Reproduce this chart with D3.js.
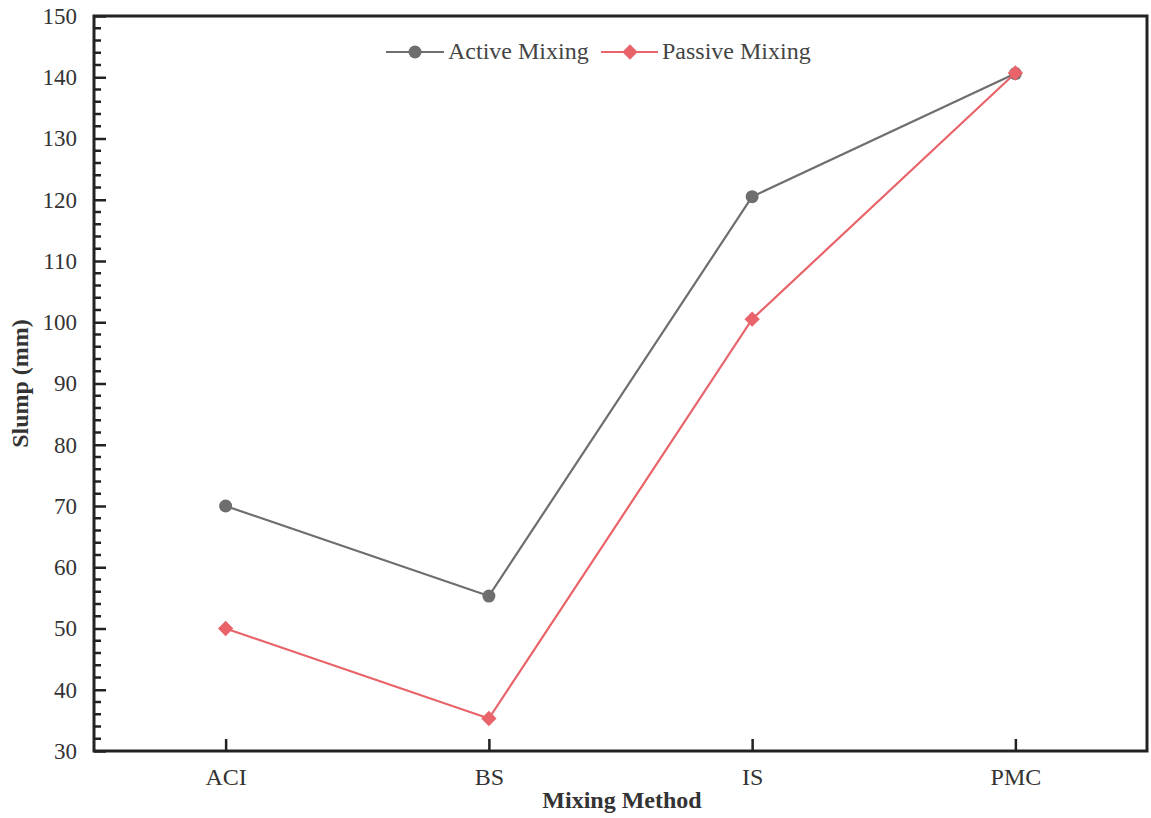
<!DOCTYPE html>
<html>
<head>
<meta charset="utf-8">
<script src="https://cdn.jsdelivr.net/npm/d3@7"></script>
<style>
  body { margin: 0; background: #fff; }
  text { font-family: "Liberation Serif", "DejaVu Serif", serif; }
</style>
</head>
<body>
<div id="container"></div>
<script>
let w = 1151;
let h = 818;

let categories = ["ACI", "BS", "IS", "PMC"];
let activeValues = [70, 55.3, 120.5, 140.6];
let passiveValues = [50, 35.3, 100.5, 140.7];
let yTicks = [30, 40, 50, 60, 70, 80, 90, 100, 110, 120, 130, 140, 150];

let padL = 94, padR = 1147, padT = 16, padB = 751;

let viz = d3.select("#container")
  .append("svg")
    .attr("width", w)
    .attr("height", h);

// scales
let xScale = d3.scalePoint().domain(categories).range([padL, padR]).padding(0.5);
let yScale = d3.scaleLinear().domain([30, 150]).range([padB, padT]);

// minor ticks every 2
let minor = d3.range(30, 151, 2).filter(v => v % 10 != 0);
viz.append("g").selectAll("line").data(minor).enter().append("line")
  .attr("x1", padL).attr("x2", padL + 7)
  .attr("y1", d => yScale(d)).attr("y2", d => yScale(d))
  .attr("stroke", "#222").attr("stroke-width", 2.5);

// y axis
let yAxis = d3.axisLeft(yScale).tickValues(yTicks).tickSize(-12).tickPadding(17);
let yAxisGroup = viz.append("g").attr("class", "yaxis")
  .attr("transform", "translate(" + padL + ",0)")
  .call(yAxis);
yAxisGroup.select(".domain").remove();
yAxisGroup.selectAll(".tick line").attr("stroke", "#222").attr("stroke-width", 2.5);
yAxisGroup.selectAll(".tick text").attr("font-size", 23).attr("fill", "#333")
  .style("font-family", "Liberation Serif");

// x axis
let xAxis = d3.axisBottom(xScale).tickSize(-12).tickPadding(17);
let xAxisGroup = viz.append("g").attr("class", "xaxis")
  .attr("transform", "translate(0," + padB + ")")
  .call(xAxis);
xAxisGroup.select(".domain").remove();
xAxisGroup.selectAll(".tick line").attr("stroke", "#222").attr("stroke-width", 2.5);
xAxisGroup.selectAll(".tick text").attr("font-size", 24).attr("fill", "#333")
  .style("font-family", "Liberation Serif");

// frame
viz.append("rect")
  .attr("x", padL).attr("y", padT)
  .attr("width", padR - padL).attr("height", padB - padT)
  .attr("fill", "none").attr("stroke", "#222").attr("stroke-width", 3);

// axis titles
viz.append("text")
  .attr("x", 622).attr("y", 808)
  .attr("text-anchor", "middle").attr("font-size", 24).attr("font-weight", "bold")
  .attr("fill", "#333").text("Mixing Method");
viz.append("text")
  .attr("transform", "translate(28," + (padT + padB) / 2 + ") rotate(-90)")
  .attr("text-anchor", "middle").attr("font-size", 24).attr("font-weight", "bold")
  .attr("fill", "#333").text("Slump (mm)");

let grey = "#6e6e6e";
let red = "#e8646a";

let line = d3.line().x((d, i) => xScale(categories[i])).y(d => yScale(d));

// active
viz.append("path").datum(activeValues).attr("d", line)
  .attr("fill", "none").attr("stroke", grey).attr("stroke-width", 2.2);
viz.append("g").selectAll("circle").data(activeValues).enter().append("circle")
  .attr("cx", (d, i) => xScale(categories[i])).attr("cy", d => yScale(d))
  .attr("r", 6.5).attr("fill", grey);

// passive
viz.append("path").datum(passiveValues).attr("d", line)
  .attr("fill", "none").attr("stroke", red).attr("stroke-width", 2.2);
let diamond = d3.symbol().type(d3.symbolDiamond2).size(150);
viz.append("g").selectAll("path").data(passiveValues).enter().append("path")
  .attr("d", diamond)
  .attr("transform", (d, i) => "translate(" + xScale(categories[i]) + "," + yScale(d) + ")")
  .attr("fill", red);

// legend
let lg = viz.append("g");
lg.append("line").attr("x1", 386).attr("x2", 444).attr("y1", 52).attr("y2", 52)
  .attr("stroke", grey).attr("stroke-width", 2.2);
lg.append("circle").attr("cx", 415).attr("cy", 52).attr("r", 6.5).attr("fill", grey);
lg.append("text").attr("x", 448).attr("y", 59).attr("font-size", 24).attr("fill", "#444")
  .text("Active Mixing");
lg.append("line").attr("x1", 601).attr("x2", 658).attr("y1", 52).attr("y2", 52)
  .attr("stroke", red).attr("stroke-width", 2.2);
lg.append("path").attr("d", diamond).attr("transform", "translate(630,52)").attr("fill", red);
lg.append("text").attr("x", 662).attr("y", 59).attr("font-size", 24).attr("fill", "#444")
  .text("Passive Mixing");
</script>
</body>
</html>
